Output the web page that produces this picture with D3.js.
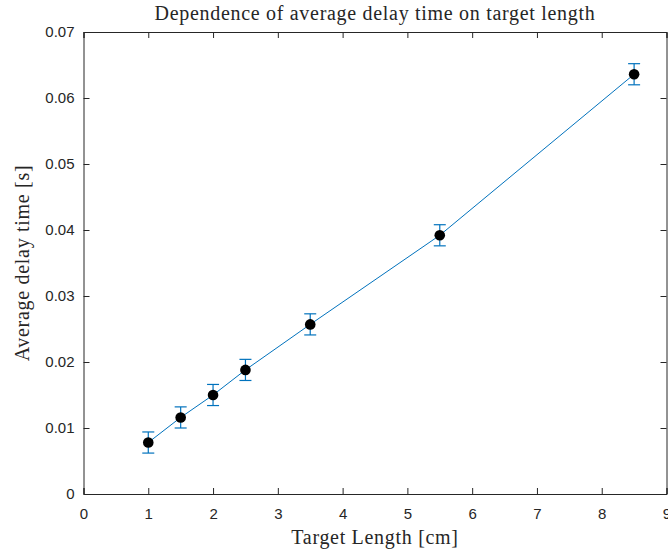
<!DOCTYPE html>
<html>
<head>
<meta charset="utf-8">
<script src="https://cdn.jsdelivr.net/npm/d3@7"></script>
<style>
  body { margin: 0; background: #fff; }
</style>
</head>
<body>
<script>
const targetLength = [1, 1.5, 2, 2.5, 3.5, 5.5, 8.5];
const delayTime = [0.0078, 0.0116, 0.0150, 0.0188, 0.0257, 0.0392, 0.0636];
const delayError = [0.0016, 0.0016, 0.0016, 0.0016, 0.0016, 0.0016, 0.0016];
const xTicks = [0, 1, 2, 3, 4, 5, 6, 7, 8, 9];
const yTicks = [0, 0.01, 0.02, 0.03, 0.04, 0.05, 0.06, 0.07];

const width = 668;
const height = 552;
const margin = { top: 32, right: 1.5, bottom: 58, left: 83.5 };

const points = targetLength.map((x, i) => ({ x, y: delayTime[i], e: delayError[i] }));

const svg = d3
  .select("body")
  .append("svg")
  .attr("width", width)
  .attr("height", height);

const x = d3.scaleLinear().domain([0, 9]).range([margin.left, width - margin.right]);
const y = d3.scaleLinear().domain([0, 0.07]).range([height - margin.bottom, margin.top]);

const axisColor = "#262626";
const blue = "#0072BD";
const tickFont = "Liberation Sans, Arial, sans-serif";
const labelFont = "Liberation Serif, Times New Roman, serif";

// Axes with inward ticks on all four sides
const xAxis = svg
  .append("g")
  .attr("transform", `translate(0,${y(0)})`)
  .call(d3.axisBottom(x).tickValues(xTicks).tickSize(-6).tickPadding(14).tickFormat(d3.format("d")));
const xTop = svg
  .append("g")
  .attr("transform", `translate(0,${y(0.07)})`)
  .call(d3.axisTop(x).tickValues(xTicks).tickSize(-6).tickFormat(""));
const yAxis = svg
  .append("g")
  .attr("transform", `translate(${x(0)},0)`)
  .call(d3.axisLeft(y).tickValues(yTicks).tickSize(-6).tickPadding(9).tickFormat((d) => (d === 0 ? "0" : d3.format(".2f")(d))));
const yRight = svg
  .append("g")
  .attr("transform", `translate(${x(9)},0)`)
  .call(d3.axisRight(y).tickValues(yTicks).tickSize(-6).tickFormat(""));

[xAxis, xTop, yAxis, yRight].forEach((g) => {
  g.select(".domain").attr("stroke", axisColor).attr("stroke-width", 1);
  g.selectAll(".tick line").attr("stroke", axisColor);
  g.selectAll("text")
    .attr("fill", axisColor)
    .style("font-family", tickFont)
    .style("font-size", "15px");
});

// Connecting line
svg
  .append("path")
  .datum(points)
  .attr("fill", "none")
  .attr("stroke", blue)
  .attr("stroke-width", 1)
  .attr("d", d3.line().x((d) => x(d.x)).y((d) => y(d.y)));

// Error bars
const capW = 6;
const bars = svg
  .append("g")
  .attr("stroke", blue)
  .attr("stroke-width", 1.2)
  .selectAll("g")
  .data(points)
  .join("g");
bars
  .append("line")
  .attr("x1", (d) => x(d.x))
  .attr("x2", (d) => x(d.x))
  .attr("y1", (d) => y(d.y - d.e))
  .attr("y2", (d) => y(d.y + d.e));
bars
  .append("line")
  .attr("x1", (d) => x(d.x) - capW)
  .attr("x2", (d) => x(d.x) + capW)
  .attr("y1", (d) => y(d.y - d.e))
  .attr("y2", (d) => y(d.y - d.e));
bars
  .append("line")
  .attr("x1", (d) => x(d.x) - capW)
  .attr("x2", (d) => x(d.x) + capW)
  .attr("y1", (d) => y(d.y + d.e))
  .attr("y2", (d) => y(d.y + d.e));

// Markers
svg
  .append("g")
  .selectAll("circle")
  .data(points)
  .join("circle")
  .attr("cx", (d) => x(d.x))
  .attr("cy", (d) => y(d.y))
  .attr("r", 5.3)
  .attr("fill", "#000");

// Title and axis labels (LaTeX-like serif)
const plotMid = (margin.left + width - margin.right) / 2;
svg
  .append("text")
  .attr("x", plotMid)
  .attr("y", 20)
  .attr("text-anchor", "middle")
  .attr("fill", axisColor)
  .style("font-family", labelFont)
  .style("font-size", "20px")
  .style("letter-spacing", "0.7px")
  .text("Dependence of average delay time on target length");

svg
  .append("text")
  .attr("x", plotMid)
  .attr("y", 544)
  .attr("text-anchor", "middle")
  .attr("fill", axisColor)
  .style("font-family", labelFont)
  .style("font-size", "20px")
  .style("letter-spacing", "0.7px")
  .text("Target Length [cm]");

svg
  .append("text")
  .attr("transform", `translate(29,${(margin.top + height - margin.bottom) / 2}) rotate(-90)`)
  .attr("text-anchor", "middle")
  .attr("fill", axisColor)
  .style("font-family", labelFont)
  .style("font-size", "20px")
  .style("letter-spacing", "0.7px")
  .text("Average delay time [s]");
</script>
</body>
</html>
